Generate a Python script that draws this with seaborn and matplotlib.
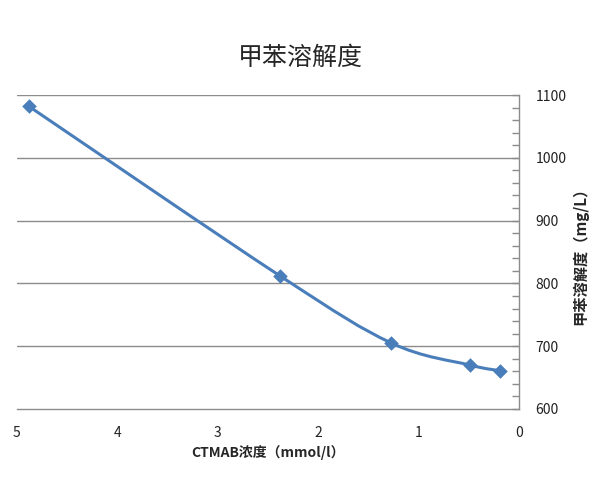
import numpy as np
import pandas as pd
import matplotlib
matplotlib.use("Agg")
import matplotlib.pyplot as plt
from matplotlib.path import Path
from matplotlib.patches import PathPatch
import seaborn as sns

# ---- data ----
concentration = [4.88, 2.38, 1.27, 0.49, 0.19]   # CTMAB浓度 (mmol/l)
solubility = [1082, 812, 705, 670, 661]         # 甲苯溶解度 (mg/L)
x_ticks = [0, 1, 2, 3, 4, 5]
y_ticks = [600, 700, 800, 900, 1000, 1100]
title = "甲苯溶解度"
x_label = "CTMAB浓度（mmol/l）"
y_label = "甲苯溶解度（mg/L）"

sns.set_theme(style="white")
plt.rcParams['font.family'] = ['Noto Sans CJK SC', 'DejaVu Sans']

color = "#4A7EBB"
grid_c = "#8C8C8C"

fig = plt.figure(figsize=(6, 5), dpi=100)
ax = fig.add_axes([0.028, 0.182, 0.837, 0.628])

df = pd.DataFrame({"x": concentration, "y": solubility})

# smooth curve (Catmull-Rom -> cubic Bezier, drawn through data coords)
pts = np.column_stack([df["x"].to_numpy(float), df["y"].to_numpy(float)])
n = len(pts)
verts = [pts[0]]
codes = [Path.MOVETO]
for i in range(n - 1):
    p0 = pts[i - 1] if i > 0 else pts[i]
    p1 = pts[i]
    p2 = pts[i + 1]
    p3 = pts[i + 2] if i + 2 < n else pts[i + 1]
    c1 = p1 + (p2 - p0) / 6.0
    c2 = p2 - (p3 - p1) / 6.0
    verts += [c1, c2, p2]
    codes += [Path.CURVE4] * 3
ax.add_patch(PathPatch(Path(verts, codes), facecolor="none", edgecolor=color,
                       lw=2.2, zorder=3))

sns.scatterplot(data=df, x="x", y="y", marker="D", s=55, color=color,
                edgecolor=color, linewidth=0, ax=ax, zorder=4)

ax.set_xlim(5, 0)
ax.set_ylim(600, 1100)
ax.set_xticks(x_ticks)
ax.set_yticks(y_ticks)
ax.set_yticks(np.arange(600, 1101, 20), minor=True)

ax.yaxis.tick_right()
ax.yaxis.set_label_position("right")
ax.grid(False)
for v in y_ticks[1:]:
    ax.axhline(v, color=grid_c, lw=1.0, zorder=1)

for s in ["top", "left"]:
    ax.spines[s].set_visible(False)
for s in ["bottom", "right"]:
    ax.spines[s].set_visible(True)
    ax.spines[s].set_color(grid_c)
    ax.spines[s].set_linewidth(1.0)

ax.tick_params(axis="x", which="major", direction="in", length=5, width=1,
               color=grid_c, labelsize=10, labelcolor="#222222", pad=12)
ax.tick_params(axis="y", which="both", direction="in", length=5, width=1,
               color=grid_c, labelsize=10, labelcolor="#222222", pad=12,
               left=False, right=True, labelleft=False, labelright=True)

ax.set_xlabel(x_label, fontsize=10, fontweight="bold", labelpad=4)
ax.set_ylabel(y_label, fontsize=11, fontweight="bold", labelpad=4, rotation=90)

fig.text(0.5, 0.885, title, ha="center", va="center", fontsize=18)

fig.savefig("out.png", dpi=100)
